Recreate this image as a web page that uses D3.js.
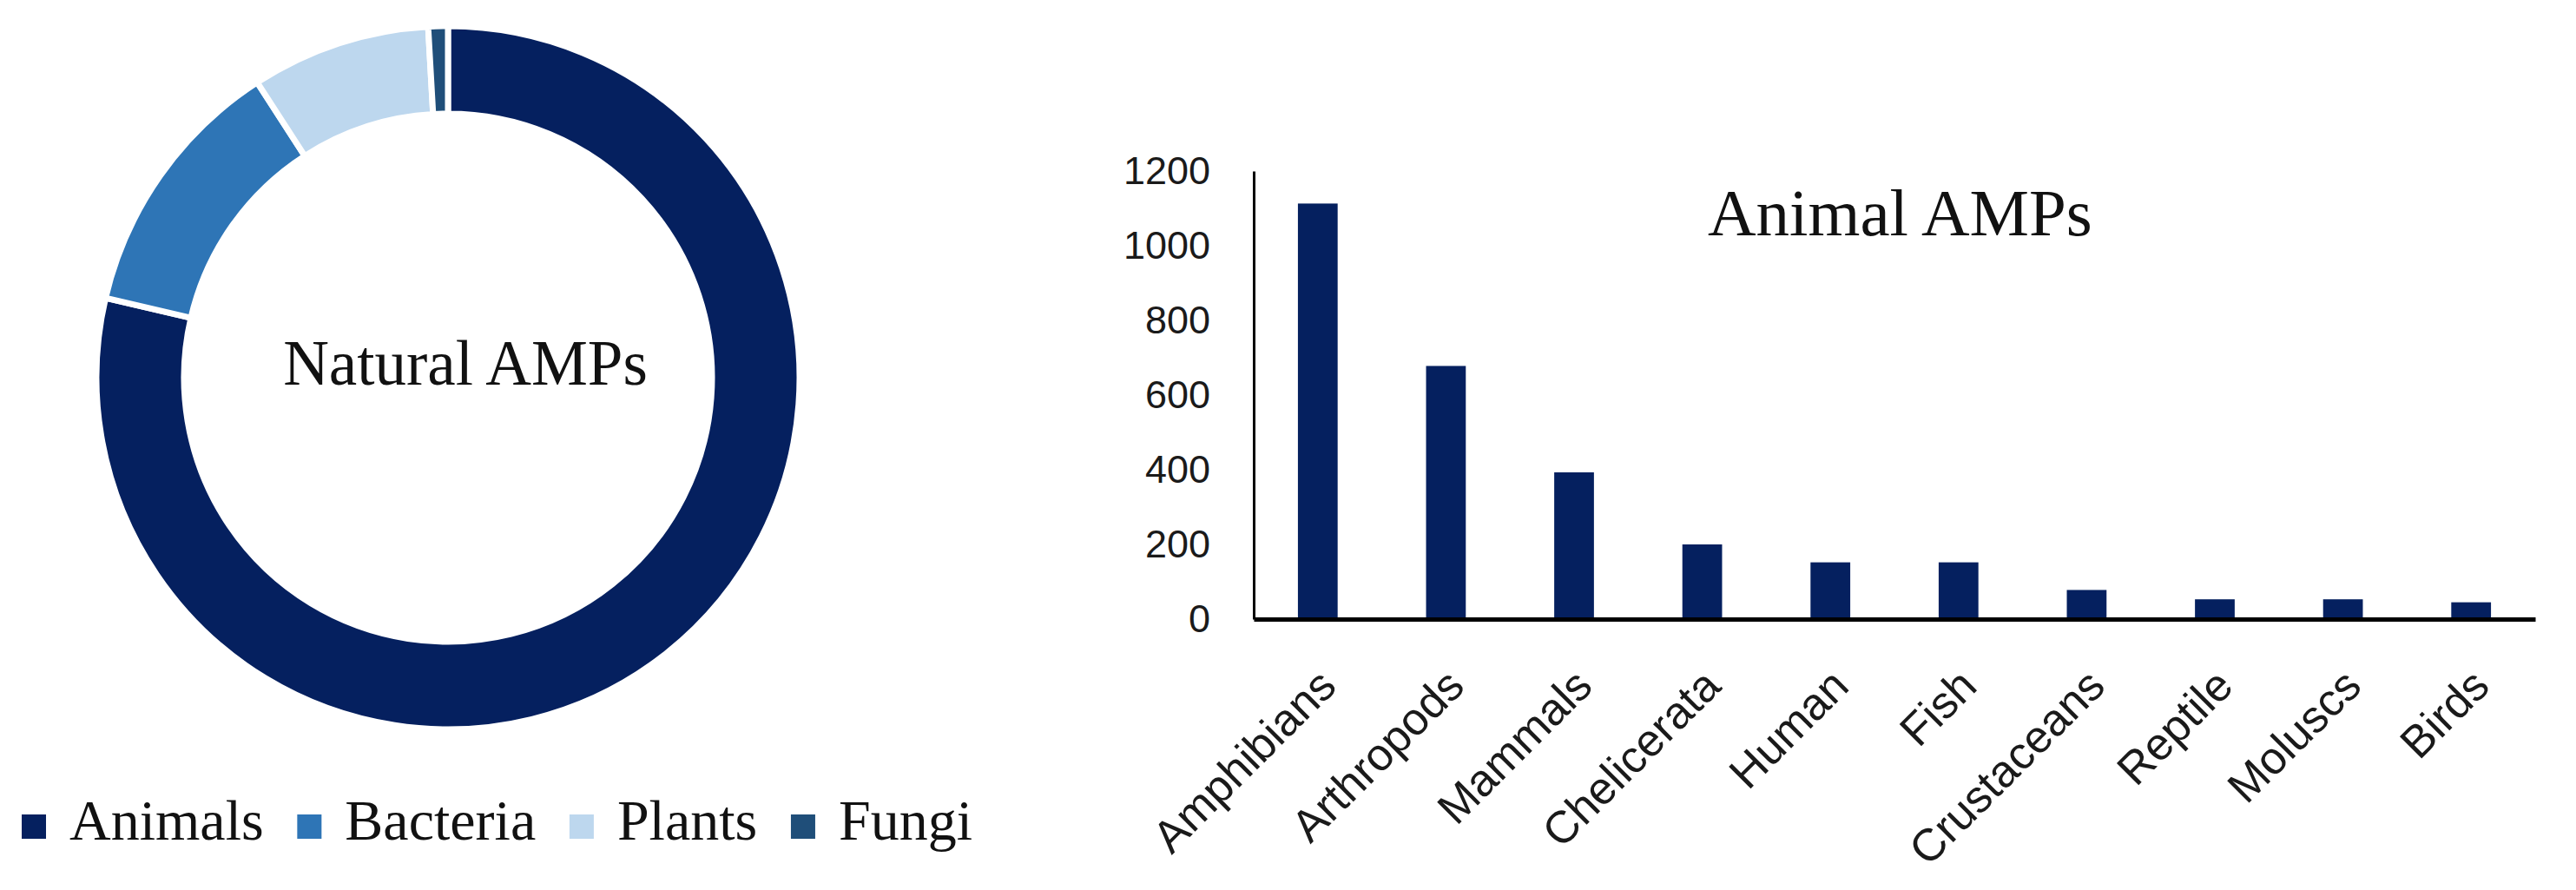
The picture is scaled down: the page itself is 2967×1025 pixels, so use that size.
<!DOCTYPE html>
<html>
<head>
<meta charset="utf-8">
<script src="https://cdn.jsdelivr.net/npm/d3@7"></script>
<style>
  html, body { margin: 0; padding: 0; background: #ffffff; }
  svg { display: block; }
</style>
</head>
<body>
<svg id="chart" width="2967" height="1025"></svg>
<script>
// ---------- data ----------
const sourceNames = ["Animals", "Bacteria", "Plants", "Fungi"];
const sourceCounts = [2360, 367, 247, 27];
const sourceColors = ["#05205f", "#2e75b6", "#bdd7ee", "#1f4e79"];

const animalGroups = ["Amphibians", "Arthropods", "Mammals", "Chelicerata", "Human", "Fish", "Crustaceans", "Reptile", "Moluscs", "Birds"];
const animalCounts = [1113, 678, 393, 200, 152, 152, 78, 53, 53, 45];
const yTicks = [0, 200, 400, 600, 800, 1000, 1200];

const donutTitle = "Natural AMPs";
const barTitle = "Animal AMPs";

// ---------- setup ----------
const svg = d3.select("#chart");
svg.append("rect").attr("width", 2967).attr("height", 1025).attr("fill", "#fff");

const serif = "'Liberation Serif', 'Times New Roman', serif";
const sans = "'Liberation Sans', Arial, sans-serif";

// ---------- donut ----------
const cx = 516, cy = 435;
const pie = d3.pie().sort(null).value(d => d).startAngle(0).endAngle(2 * Math.PI);
const arc = d3.arc().innerRadius(304).outerRadius(405);
const donut = svg.append("g").attr("transform", `translate(${cx},${cy})`);
donut.selectAll("path")
  .data(pie(sourceCounts))
  .join("path")
  .attr("d", arc)
  .attr("fill", (d, i) => sourceColors[i])
  .attr("stroke", "#fff")
  .attr("stroke-width", 7)
  .attr("stroke-linejoin", "miter");

svg.append("text")
  .attr("x", 536).attr("y", 443)
  .attr("text-anchor", "middle")
  .attr("font-family", serif)
  .attr("font-size", 73)
  .attr("fill", "#111")
  .text(donutTitle);

// ---------- legend ----------
const legend = svg.append("g");
const legendStart = 25, legendEnd = 1120, markerSize = 28, markerGap = 27;
const legendFont = 66;
const items = legend.selectAll("g.item")
  .data(sourceNames)
  .join("g").attr("class", "item");
items.append("rect")
  .attr("width", markerSize).attr("height", markerSize)
  .attr("y", 938)
  .attr("fill", (d, i) => sourceColors[i]);
items.append("text")
  .attr("x", markerSize + markerGap)
  .attr("y", 967)
  .attr("font-family", serif)
  .attr("font-size", legendFont)
  .attr("fill", "#111")
  .text(d => d);
const widths = [];
items.select("text").each(function () { widths.push(this.getComputedTextLength()); });
const totalItems = widths.reduce((a, w) => a + w + markerSize + markerGap, 0);
const itemGap = (legendEnd - legendStart - totalItems) / (sourceNames.length - 1);
let lx = legendStart;
items.attr("transform", (d, i) => {
  const t = `translate(${lx},0)`;
  lx += widths[i] + markerSize + markerGap + itemGap;
  return t;
});

// ---------- bar chart ----------
const x = d3.scaleBand()
  .domain(animalGroups)
  .range([1444, 2920])
  .paddingInner(0.69)
  .paddingOuter(0.345);
const y = d3.scaleLinear().domain([0, 1200]).range([713, 197]);

svg.append("g")
  .selectAll("rect")
  .data(animalGroups)
  .join("rect")
  .attr("x", d => x(d))
  .attr("width", x.bandwidth())
  .attr("y", (d, i) => y(animalCounts[i]))
  .attr("height", (d, i) => y(0) - y(animalCounts[i]))
  .attr("fill", "#05205f");

const yAxis = svg.append("g")
  .attr("transform", "translate(1444,0)")
  .call(d3.axisLeft(y).tickValues(yTicks).tickSize(0).tickPadding(50).tickFormat(d3.format("d")));
yAxis.select(".domain").attr("stroke", "#000").attr("stroke-width", 3);
yAxis.selectAll("text")
  .attr("font-family", sans)
  .attr("font-size", 45)
  .attr("fill", "#1a1a1a");

const xAxis = svg.append("g")
  .attr("transform", "translate(0,713)")
  .call(d3.axisBottom(x).tickSize(0));
xAxis.select(".domain").attr("stroke", "#000").attr("stroke-width", 5);
xAxis.selectAll("text")
  .attr("font-family", sans)
  .attr("font-size", 52)
  .attr("fill", "#1a1a1a")
  .attr("text-anchor", "end")
  .attr("x", 0).attr("y", 0)
  .attr("dy", "0.7em")
  .attr("transform", "translate(-2,54) rotate(-45)");

svg.append("text")
  .attr("x", 1967).attr("y", 271)
  .attr("font-family", serif)
  .attr("font-size", 77)
  .attr("fill", "#111")
  .text(barTitle);
</script>
</body>
</html>
